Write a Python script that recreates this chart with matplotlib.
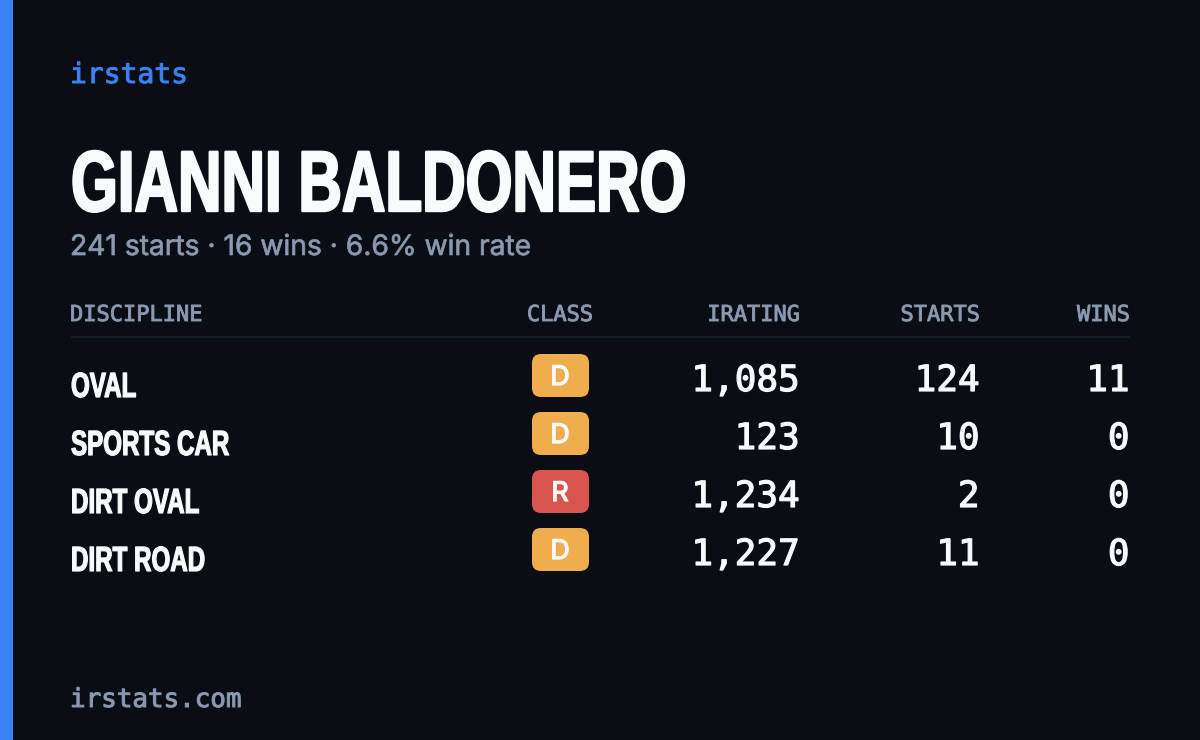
import matplotlib.pyplot as plt
from matplotlib.patches import FancyBboxPatch, Rectangle
from matplotlib.patheffects import AbstractPathEffect
from matplotlib.transforms import Affine2D

BG = "#0a0d14"
BLUE = "#3b82f6"
WHITE = "#f8fafc"
GREY = "#8b9ab2"
COND = "Liberation Sans"
MONO = "DejaVu Sans Mono"

player = "GIANNI BALDONERO"
subtitle = "241 starts · 16 wins · 6.6% win rate"
disciplines = ["OVAL", "SPORTS CAR", "DIRT OVAL", "DIRT ROAD"]
classes = ["D", "D", "R", "D"]
iratings = [1085, 123, 1234, 1227]
starts = [124, 10, 2, 11]
wins = [11, 0, 0, 0]
class_colors = {"D": "#f0ad4e", "R": "#d9534f"}


class Squeeze(AbstractPathEffect):
    # no condensed font installed, so narrow the glyphs and thicken them a bit
    def __init__(self, x0=0, sx=1.0, stroke=0.0):
        super().__init__()
        self.x0 = x0
        self.sx = sx
        self.stroke = stroke

    def draw_path(self, renderer, gc, tpath, affine, rgbFace=None):
        trans = affine + Affine2D().translate(-self.x0, 0).scale(self.sx, 1).translate(self.x0, 0)
        gc0 = renderer.new_gc()
        gc0.copy_properties(gc)
        if self.stroke:
            gc0.set_linewidth(self.stroke * 0.72)
            gc0.set_foreground(rgbFace)
        renderer.draw_path(gc0, tpath, trans, rgbFace)
        gc0.restore()


def px(size):
    # sizes below are in pixels, figure is at 100 dpi
    return size * 0.72


def label(x, y, s, color, family, size, ha="left", sx=1.0, stroke=0.0, **kw):
    t = ax.text(x, y, s, color=color, family=family, fontsize=px(size), va="baseline", ha=ha, **kw)
    t.set_path_effects([Squeeze(x, sx, stroke)])
    return t


fig = plt.figure(figsize=(12, 7.4), dpi=100, facecolor=BG)
ax = fig.add_axes([0, 0, 1, 1])
ax.set_xlim(0, 1200)
ax.set_ylim(740, 0)
ax.axis("off")

ax.add_patch(Rectangle((0, 0), 13, 740, color=BLUE, lw=0))

label(70, 83, "irstats", BLUE, MONO, 28, stroke=1.0)
label(71, 211, player, WHITE, COND, 86, sx=0.70, stroke=2.4, weight="bold")
label(70, 255, subtitle, GREY, "Inter", 28.2, stroke=0.7)
label(70, 707, "irstats.com", GREY, MONO, 25.9, stroke=1.0)

# header row
label(70, 321, "DISCIPLINE", GREY, MONO, 22, stroke=0.9)
label(560, 321, "CLASS", GREY, MONO, 22, ha="center", stroke=0.9)
label(800, 321, "IRATING", GREY, MONO, 22, ha="right", stroke=0.9)
label(980, 321, "STARTS", GREY, MONO, 22, ha="right", stroke=0.9)
label(1130, 321, "WINS", GREY, MONO, 22, ha="right", stroke=0.9)
ax.plot([71, 1130], [337, 337], color="#1a1e2b", lw=1.4, solid_capstyle="butt")

for i, name in enumerate(disciplines):
    y = 58 * i
    label(71, 397 + y, name, WHITE, COND, 35, sx=0.69, stroke=1.2, weight="bold")
    badge = FancyBboxPatch((540, 362 + y), 41, 27, boxstyle="round,pad=8,rounding_size=9", lw=0)
    badge.set_facecolor(class_colors[classes[i]])
    ax.add_patch(badge)
    label(560, 385 + y, classes[i], WHITE, "Inter", 27, ha="center", stroke=1.3)
    label(799.5, 391 + y, f"{iratings[i]:,}", WHITE, MONO, 36, ha="right", stroke=1.2)
    label(979.5, 391 + y, str(starts[i]), WHITE, MONO, 36, ha="right", stroke=1.2)
    label(1129.5, 391 + y, str(wins[i]), WHITE, MONO, 36, ha="right", stroke=1.2)

fig.savefig("out.png", dpi=100, facecolor=BG)
